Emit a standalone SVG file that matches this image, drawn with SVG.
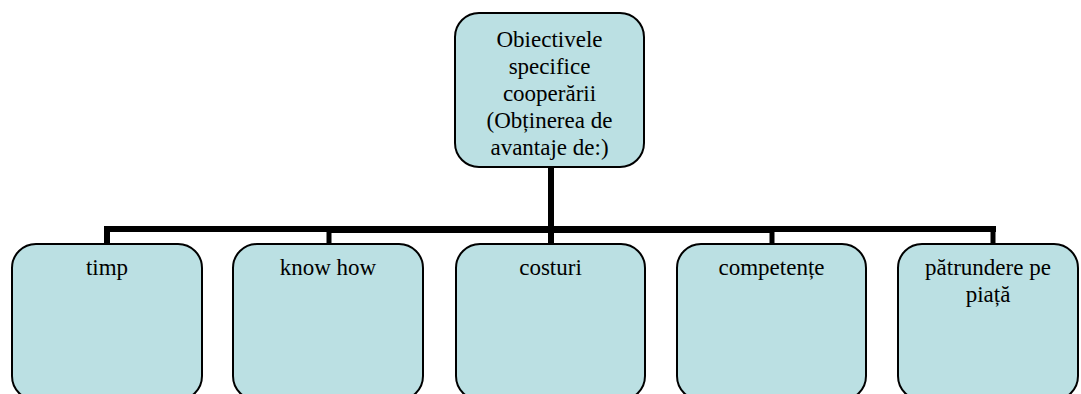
<svg xmlns="http://www.w3.org/2000/svg" width="1081" height="394" viewBox="0 0 1081 394">
  <style>
    .box { fill: #bbe0e3; stroke: #000; stroke-width: 2; }
    .label { font-family: 'Liberation Serif', 'DejaVu Serif', serif; font-size: 23px; fill: #000; text-anchor: middle; }
    .wire { stroke: #000; fill: none; stroke-linecap: butt; }
  </style>
  <rect width="1081" height="394" fill="#fff"/>

  <!-- connectors: trunk, horizontal bus and drops to each child -->
  <g id="connectors">
    <line class="wire" x1="551" y1="167" x2="551" y2="244" stroke-width="6"/>
    <line class="wire" x1="104" y1="229" x2="996" y2="229" stroke-width="6"/>
    <line class="wire" x1="329" y1="229.5" x2="772" y2="229.5" stroke-width="7"/>
    <line class="wire" x1="107" y1="226" x2="107" y2="244" stroke-width="6"/>
    <line class="wire" x1="329" y1="226" x2="329" y2="244" stroke-width="5"/>
    <line class="wire" x1="772" y1="226" x2="772" y2="244" stroke-width="5"/>
    <line class="wire" x1="993" y1="226" x2="993" y2="244" stroke-width="5"/>
  </g>

  <g id="root">
    <rect class="box" x="455" y="13" width="189" height="154" rx="24" ry="24"/>
    <text class="label" x="549.5" y="47">Obiectivele</text>
    <text class="label" x="549.5" y="74">specifice</text>
    <text class="label" x="549.5" y="101">cooperării</text>
    <text class="label" x="549.5" y="128">(Obținerea de</text>
    <text class="label" x="549.5" y="155">avantaje de:)</text>
  </g>

  <g id="timp">
    <rect class="box" x="12" y="244" width="190" height="156" rx="24" ry="24"/>
    <text class="label" x="107" y="275">timp</text>
  </g>

  <g id="know-how">
    <rect class="box" x="233" y="244" width="190" height="156" rx="24" ry="24"/>
    <text class="label" x="328" y="275">know how</text>
  </g>

  <g id="costuri">
    <rect class="box" x="456" y="244" width="189" height="156" rx="24" ry="24"/>
    <text class="label" x="550.5" y="275">costuri</text>
  </g>

  <g id="competente">
    <rect class="box" x="677" y="244" width="189" height="156" rx="24" ry="24"/>
    <text class="label" x="771.5" y="275">competențe</text>
  </g>

  <g id="patrundere">
    <rect class="box" x="898" y="244" width="180" height="156" rx="24" ry="24"/>
    <text class="label" x="988" y="275">pătrundere pe</text>
    <text class="label" x="988" y="302">piață</text>
  </g>
</svg>
